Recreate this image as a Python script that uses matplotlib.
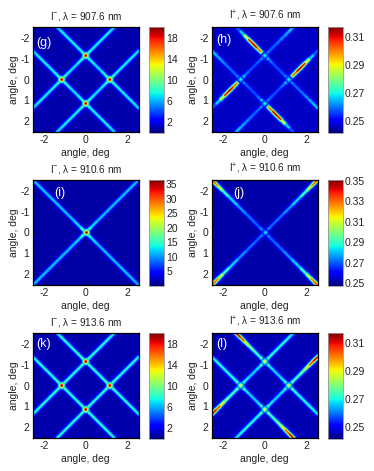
import numpy as np
import matplotlib
matplotlib.use('Agg')
import matplotlib.pyplot as plt
from matplotlib.collections import LineCollection

plt.rcParams['font.family'] = ['Liberation Sans', 'DejaVu Sans']
plt.rcParams['mathtext.fontset'] = 'custom'
plt.rcParams['mathtext.rm'] = 'Liberation Sans'
plt.rcParams['mathtext.it'] = 'Liberation Sans'
plt.rcParams['axes.unicode_minus'] = False

# ridges: node distance along a ridge (deg) and value there
node_dist = [0, .2, .4, .6, .8, 1.0, 1.2, 1.37, 1.55, 1.75, 1.95, 2.15, 2.35, 2.52, 2.7, 2.9, 3.1, 3.3, 3.5, 3.7, 3.89]
ridge_x0 = [-1.37, 2.52, 1.37, -2.52]
ridge_y0 = [-2.52, -1.37, 2.52, 1.37]
ridge_dx = [1, -1, -1, 1]
ridge_dy = [1, 1, -1, -1]

vals_g = [7, 7.5, 7.5, 7.5, 7.5, 7.5, 8, 10, 8, 7.5, 7, 7.5, 8, 10, 8, 7.5, 7.5, 7.5, 7.5, 7.5, 7]
vals_h = [.256, .262, .275, .305, .316, .312, .295, .283, .264, .258, .258, .258, .26, .268, .26, .26, .26, .262, .264, .266, .268]
vals_k = [7.5, 8, 8, 8, 8, 8, 8.5, 10, 8.5, 8, 8, 8, 8.5, 10, 8.5, 8, 8, 8, 8, 8, 7.5]
vals_l = [.315, .312, .30, .285, .278, .274, .275, .288, .272, .268, .268, .268, .272, .287, .274, .272, .272, .272, .272, .272, .268]

diag_dist = [0, .15, .3, .5, .8, 1.2, 1.6, 2.0, 2.3, 2.52, 2.74, 3.04, 3.44, 3.84, 4.24, 4.54, 4.74, 4.89, 5.04]
diag_x0 = [-2.52, 2.52]
diag_y0 = [-2.52, -2.52]
diag_dx = [1, -1]
diag_dy = [1, 1]
vals_i = [11, 12, 12, 12, 12, 12, 12, 12, 14, 20, 14, 12, 12, 12, 12, 12, 12, 12, 11]
vals_j = [.338, .335, .325, .30, .288, .28, .275, .272, .272, .28, .272, .272, .275, .28, .288, .30, .325, .335, .338]

# peaks at the ridge crossings
cross_x = [0, 1.15, 0, -1.15]
cross_y = [-1.15, 0, 1.15, 0]
center_x = [0]
center_y = [0]
peak_g = [20, 20, 20, 20]
peak_h = [.27, .27, .27, .27]
peak_i = [36]
peak_j = [.285]
peak_k = [20, 20, 20, 20]
peak_l = [.29, .29, .29, .29]

# colour limits and background level of the panels
vmin = [0, .242, 0, .2475, 0, .242]
vmax = [20, .317, 36.5, .351, 20, .317]
back = [.8, .2465, 1.2, .2515, .8, .2455]
cbar_ticks = [[2, 6, 10, 14, 18], [.25, .27, .29, .31], [5, 10, 15, 20, 25, 30, 35],
              [.25, .27, .29, .31, .33, .35], [2, 6, 10, 14, 18], [.25, .27, .29, .31]]
cbar_fmt = ['%d', '%.2f', '%d', '%.2f', '%d', '%.2f']
titles = ['I$^{-}$, $\\lambda$ = 907.6 nm', 'I$^{+}$, $\\lambda$ = 907.6 nm',
          'I$^{-}$, $\\lambda$ = 910.6 nm', 'I$^{+}$, $\\lambda$ = 910.6 nm',
          'I$^{-}$, $\\lambda$ = 913.6 nm', 'I$^{+}$, $\\lambda$ = 913.6 nm']
tags = ['(g)', '(h)', '(i)', '(j)', '(k)', '(l)']
tag_x = [-2.35, -2.3, -1.5, -1.5, -2.35, -2.3]
tag_y = [-1.75, -1.9, -1.9, -1.9, -2.0, -2.0]
panel_vals = [vals_g, vals_h, vals_i, vals_j, vals_k, vals_l]
panel_peak = [peak_g, peak_h, peak_i, peak_j, peak_k, peak_l]

# stroke layers, outermost first: width in px, share of the ridge height
layer_w = [10, 7.5, 6, 5, 4, 3.2, 2.4, 1.6, 1]
layer_f = [.03, .07, .14, .24, .38, .55, .72, .88, 1]
spot_d = [7.5, 6, 4.8, 3.8, 2.8, 1.8]
spot_f = [.3, .4, .52, .68, .84, 1]

W, H = 374, 471
lefts = [33, 212]
tops = [27, 180, 333]
fig = plt.figure(figsize=(W / 100, H / 100), dpi=100)
cmap = plt.get_cmap('jet')


def px_axes(x0, y0, w, h):
    return fig.add_axes([x0 / W, 1 - (y0 + h) / H, w / W, h / H])


for p in range(6):
    col = p % 2
    row = p // 2
    ax = px_axes(lefts[col], tops[row], 105.5, 105)
    norm = plt.Normalize(vmin[p], vmax[p])
    ax.set_facecolor(cmap(norm(back[p])))
    vals = np.array(panel_vals[p], dtype=float)
    if row == 1:
        dist, x0s, y0s, dxs, dys = np.array(diag_dist), diag_x0, diag_y0, diag_dx, diag_dy
        px, py = center_x, center_y
    else:
        dist, x0s, y0s, dxs, dys = np.array(node_dist), ridge_x0, ridge_y0, ridge_dx, ridge_dy
        px, py = cross_x, cross_y
    mid = (vals[:-1] + vals[1:]) / 2
    for w, f in zip(layer_w, layer_f):
        for x0, y0, dx, dy in zip(x0s, y0s, dxs, dys):
            pts = np.column_stack([x0 + dx * dist, y0 + dy * dist])
            segs = np.stack([pts[:-1], pts[1:]], axis=1)
            colors = cmap(norm(back[p] + f * (mid - back[p])))
            # round caps hide the seams between neighbouring segments
            ax.add_collection(LineCollection(segs, colors=colors, linewidths=w * .72, capstyle='round'))
    for d, f in zip(spot_d, spot_f):
        level = back[p] + f * (np.array(panel_peak[p]) - back[p])
        ax.scatter(px, py, s=(d * .72) ** 2, c=level, cmap=cmap, norm=norm, linewidths=0, zorder=3)

    ax.set_xlim(-2.52, 2.52)
    ax.set_ylim(2.52, -2.52)
    ax.set_xticks([-2, 0, 2])
    ax.set_yticks([-2, -1, 0, 1, 2])
    ax.tick_params(direction='in', length=1.5, width=.5, labelsize=7.5, pad=2.5, colors='#222222')
    ax.set_xlabel('angle, deg', fontsize=7.5, labelpad=2, color='#222222')
    ax.set_ylabel('angle, deg', fontsize=7.5, labelpad=1, color='#222222')
    ax.set_title(titles[p], fontsize=7.2, pad=5.5, color='#222222')
    for s in ax.spines.values():
        s.set_linewidth(.9)
    ax.text(tag_x[p], tag_y[p], tags[p], color='white', fontsize=9, va='center')

    cax = px_axes(lefts[col] + 116, tops[row], 15, 105.5)
    sm = plt.cm.ScalarMappable(norm=norm, cmap=cmap)
    cb = fig.colorbar(sm, cax=cax, format=cbar_fmt[p])
    cb.set_ticks(cbar_ticks[p])
    cb.ax.tick_params(length=0, labelsize=7.5, pad=1.5, colors='#222222')
    cb.outline.set_edgecolor('#999999')
    cb.outline.set_linewidth(.6)

fig.savefig('out.png', dpi=100)
